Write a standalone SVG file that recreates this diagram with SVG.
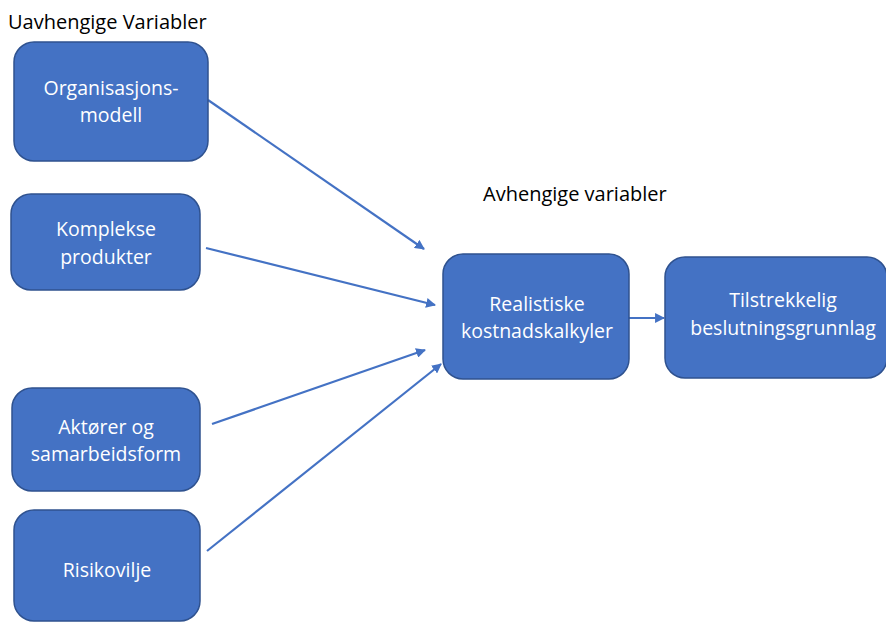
<svg xmlns="http://www.w3.org/2000/svg" width="886" height="624" viewBox="0 0 886 624">
<defs>
<style>
.box{fill:#4472C4;stroke:#2F528F;stroke-width:1.5}
.t{font-family:"Open Sans","Noto Sans","Liberation Sans",sans-serif;font-size:19.5px;fill:#ffffff;text-anchor:middle}
.h{font-family:"Open Sans","Noto Sans","Liberation Sans",sans-serif;font-size:20px;fill:#000000}
.c{stroke:#4472C4;stroke-width:2.2;fill:none;marker-end:url(#ah)}
</style>
<marker id="ah" viewBox="0 0 10 10" refX="9" refY="5" markerWidth="4.5" markerHeight="4.5" orient="auto" markerUnits="strokeWidth">
<path d="M0,0 L10,5 L0,10 z" fill="#4472C4"/>
</marker>
</defs>
<rect width="886" height="624" fill="#ffffff"/>
<text class="h" x="8" y="29">Uavhengige Variabler</text>
<text class="h" x="483" y="201">Avhengige variabler</text>
<g id="connectors">
<line class="c" x1="208" y1="100" x2="424" y2="249"/>
<line class="c" x1="206" y1="248" x2="435" y2="305"/>
<line class="c" x1="212" y1="424" x2="425" y2="350"/>
<line class="c" x1="207" y1="551" x2="441" y2="364"/>
<line class="c" x1="629" y1="318" x2="664" y2="318"/>
</g>
<g id="organisasjonsmodell">
<rect class="box" x="14" y="42" width="194" height="119" rx="20"/>
<text class="t" x="111" y="95">Organisasjons-</text>
<text class="t" x="111" y="122">modell</text>
</g>
<g id="komplekse-produkter">
<rect class="box" x="11" y="194" width="189" height="96" rx="20"/>
<text class="t" x="106" y="236">Komplekse</text>
<text class="t" x="106" y="264">produkter</text>
</g>
<g id="aktorer">
<rect class="box" x="12" y="388" width="188" height="103" rx="20"/>
<text class="t" x="106" y="434">Aktører og</text>
<text class="t" x="106" y="461">samarbeidsform</text>
</g>
<g id="risikovilje">
<rect class="box" x="14" y="510" width="186" height="111" rx="20"/>
<text class="t" x="107" y="577">Risikovilje</text>
</g>
<g id="realistiske">
<rect class="box" x="443" y="254" width="186" height="125" rx="20"/>
<text class="t" x="537" y="311">Realistiske</text>
<text class="t" x="537" y="338">kostnadskalkyler</text>
</g>
<g id="tilstrekkelig">
<rect class="box" x="665" y="257" width="222" height="121" rx="20"/>
<text class="t" x="783" y="307">Tilstrekkelig</text>
<text class="t" x="783" y="335">beslutningsgrunnlag</text>
</g>
</svg>
